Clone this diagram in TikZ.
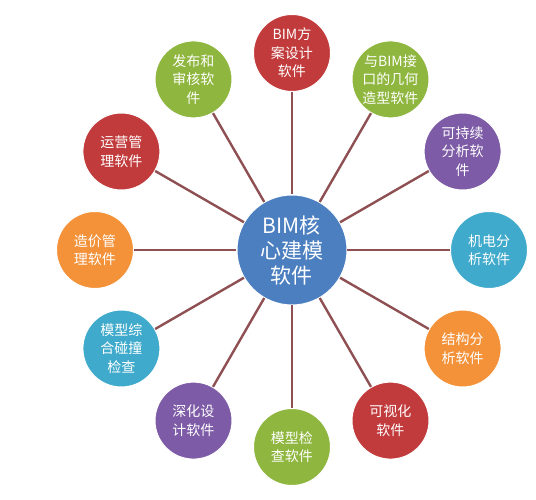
\documentclass[tikz,border=0pt]{standalone}
\usepackage{fontspec}
\setmainfont{Noto Sans CJK SC}
\usepackage{tikz}
\definecolor{hubblue}{HTML}{4B7FC0}
\definecolor{leafred}{HTML}{C23B3C}
\definecolor{leafgreen}{HTML}{8FB63E}
\definecolor{leafpurple}{HTML}{7D5BA6}
\definecolor{leaforange}{HTML}{F4923A}
\definecolor{leafcyan}{HTML}{3FAACB}
\definecolor{spokecol}{HTML}{8E5052}

\begin{document}
\begin{tikzpicture}[x=1pt,y=1pt,
	hub/.style={circle,fill=hubblue,draw=white,line width=1pt,minimum size=110pt,inner sep=0pt,
		align=center,text=white,font=\fontsize{21}{25}\selectfont},
	leaf/.style={circle,draw=white,line width=1pt,minimum size=77pt,inner sep=0pt,
		align=center,text=white,font=\fontsize{14}{18.5}\selectfont},
	spoke/.style={draw=spokecol,line width=2.4pt}]
	
	\useasboundingbox (-292,-250) rectangle (244,250);
	
	\node[hub] (core) at (0,0) {BIM核\\心建模\\软件};
	
	\foreach \ang/\col/\txt [count=\i] in {
		90/leafred/{BIM方\\案设计\\软件},
		60/leafgreen/{与BIM接\\口的几何\\造型软件},
		30/leafpurple/{可持续\\分析软\\件},
		0/leafcyan/{机电分\\析软件},
		-30/leaforange/{结构分\\析软件},
		-60/leafred/{可视化\\软件},
		-90/leafgreen/{模型检\\查软件},
		-120/leafpurple/{深化设\\计软件},
		-150/leafcyan/{模型综\\合碰撞\\检查},
		180/leaforange/{造价管\\理软件},
		150/leafred/{运营管\\理软件},
		120/leafgreen/{发布和\\审核软\\件}}
	{
		\node[leaf,fill=\col] (sat\i) at (\ang:197) {\txt};
		\draw[spoke] (core) -- (sat\i);
	}
\end{tikzpicture}
\end{document}
